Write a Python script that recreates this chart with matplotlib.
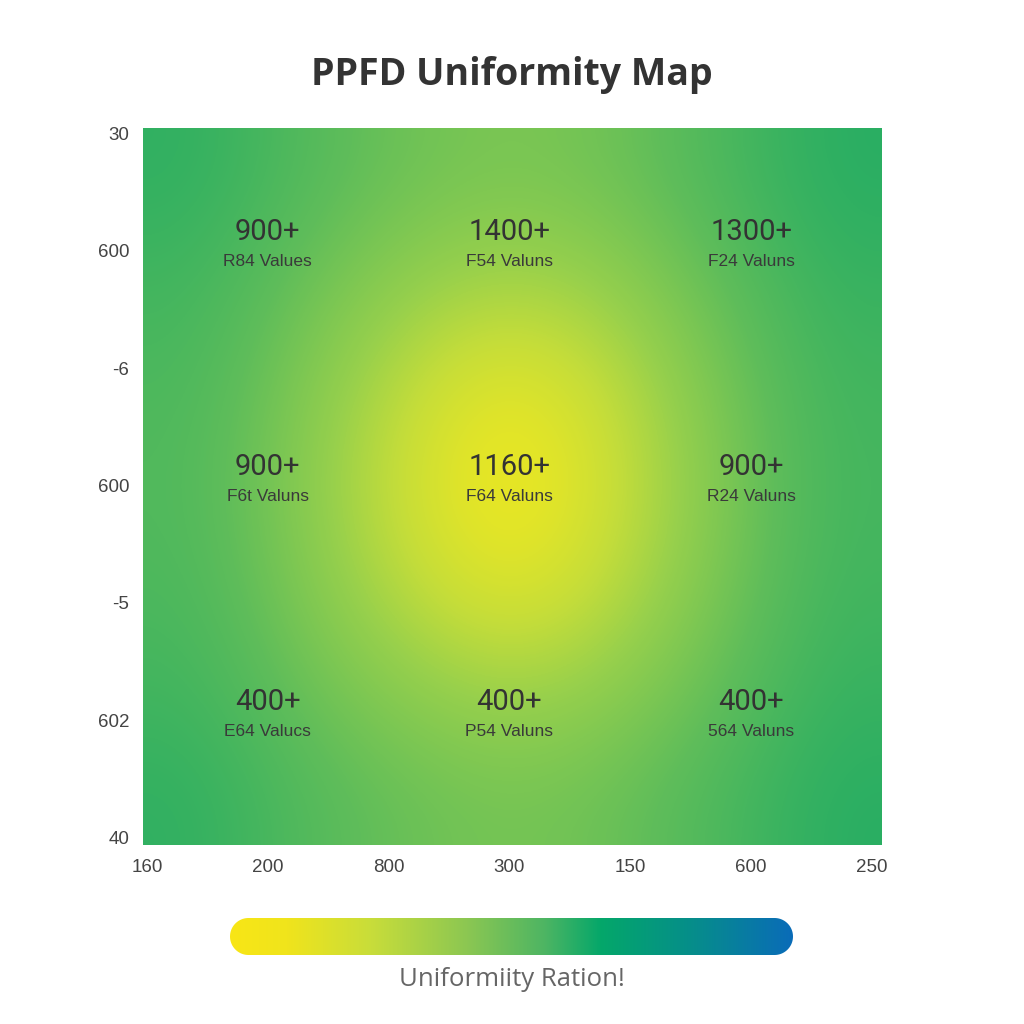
import numpy as np
import matplotlib
matplotlib.use("Agg")
import matplotlib.pyplot as plt
from matplotlib.colors import LinearSegmentedColormap
from matplotlib.patches import PathPatch
from matplotlib.path import Path

plt.rcParams['font.family'] = ['Liberation Sans', 'DejaVu Sans']

title = "PPFD Uniformity Map"
x_tick_labels = ["160", "200", "800", "300", "150", "600", "250"]
y_tick_labels = ["40", "602", "-5", "600", "-6", "600", "30"]  # bottom -> top

# uniformity field (0 = edge green, 1 = centre yellow), rows top -> bottom
field = np.array([
    [0.08, 0.28, 0.42, 0.48, 0.42, 0.24, 0.04],
    [0.18, 0.40, 0.58, 0.66, 0.58, 0.36, 0.12],
    [0.24, 0.50, 0.74, 0.90, 0.73, 0.46, 0.18],
    [0.27, 0.54, 0.80, 1.00, 0.78, 0.50, 0.20],
    [0.24, 0.50, 0.73, 0.88, 0.72, 0.46, 0.18],
    [0.18, 0.40, 0.56, 0.64, 0.56, 0.36, 0.12],
    [0.08, 0.28, 0.40, 0.46, 0.40, 0.24, 0.04],
])

zone_x = [1, 3, 5]
zone_y = [5, 3, 1]
zone_values = [["900+", "1400+", "1300+"],
               ["900+", "1160+", "900+"],
               ["400+", "400+", "400+"]]
zone_subs = [["R84 Values", "F54 Valuns", "F24 Valuns"],
             ["F6t Valuns", "F64 Valuns", "R24 Valuns"],
             ["E64 Valucs", "P54 Valuns", "564 Valuns"]]

colorbar_label = "Uniformiity Ration!"

field_cmap = LinearSegmentedColormap.from_list(
    "field", [(0.0, "#22ac64"), (0.35, "#5fbd5a"), (0.6, "#97d04c"),
              (0.75, "#c4dd3a"), (0.88, "#e2e528"), (1.0, "#f5ea18")])
bar_cmap = LinearSegmentedColormap.from_list(
    "bar", [(0.0, "#f8e616"), (0.1, "#f0e41c"), (0.25, "#c8dd3a"), (0.42, "#8cc752"),
            (0.56, "#4db563"), (0.66, "#04a76a"), (0.82, "#068e8a"), (1.0, "#0a6cb8")])

fig = plt.figure(figsize=(10.24, 10.24), dpi=100)
ax = fig.add_axes([143/1024, 1-845/1024, (882-143)/1024, (845-128)/1024])

xl = (-0.033, 6.083)
yl = (-0.06, 6.043)
ax.imshow(field, cmap=field_cmap, vmin=0, vmax=1, interpolation='bicubic',
          extent=[xl[0], xl[1], yl[0], yl[1]], aspect='auto', origin='upper')
ax.set_xlim(*xl)
ax.set_ylim(*yl)
for s in ax.spines.values():
    s.set_visible(False)

ax.set_xticks(range(7))
ax.set_xticklabels(x_tick_labels, fontsize=13.5, color="#444444")
ax.set_yticks(range(7))
ax.set_yticklabels(y_tick_labels, fontsize=13.5, color="#444444")
ax.tick_params(axis='both', length=0, pad=10)

for i, yv in enumerate(zone_y):
    for j, xv in enumerate(zone_x):
        ax.annotate(zone_values[i][j], (xv, yv), xytext=(0, 13), textcoords='offset points',
                    ha='center', va='center', fontsize=21, color="#333333",
                    family=['Roboto', 'DejaVu Sans'])
        ax.annotate(zone_subs[i][j], (xv, yv), xytext=(0, -8), textcoords='offset points',
                    ha='center', va='center', fontsize=12.5, color="#3a3a3a")

fig.text(0.5, 1-75/1024, title, ha='center', va='center', fontsize=27,
         fontweight='bold', color="#333333", family=['Open Sans', 'DejaVu Sans'])

# rounded colour bar (pixel coordinates, y up)
cax = fig.add_axes([0, 0, 1, 1], zorder=-1)
cax.set_xlim(0, 1024)
cax.set_ylim(0, 1024)
cax.axis('off')
grad = np.linspace(0, 1, 256).reshape(1, -1)
bx0, bx1 = 230, 793
by0, by1 = 1024 - 955, 1024 - 918
r = (by1 - by0) / 2
cy = (by0 + by1) / 2
im = cax.imshow(grad, cmap=bar_cmap, extent=[bx0, bx1, by0, by1], aspect='auto')
t_r = np.linspace(-np.pi / 2, np.pi / 2, 60)
t_l = np.linspace(np.pi / 2, 3 * np.pi / 2, 60)
verts = np.vstack([
    np.column_stack([bx1 - r + r * np.cos(t_r), cy + r * np.sin(t_r)]),
    np.column_stack([bx0 + r + r * np.cos(t_l), cy + r * np.sin(t_l)]),
])
verts = np.vstack([verts, verts[:1]])
codes = [Path.MOVETO] + [Path.LINETO] * (len(verts) - 2) + [Path.CLOSEPOLY]
patch = PathPatch(Path(verts, codes), transform=cax.transData,
                  facecolor='none', edgecolor='none')
cax.add_patch(patch)
im.set_clip_path(patch)

fig.text(0.5, 1-980/1024, colorbar_label, ha='center', va='center', fontsize=18.5,
         color="#666666", family=['Open Sans', 'DejaVu Sans'])

fig.savefig("out.png", dpi=100, facecolor='white')
